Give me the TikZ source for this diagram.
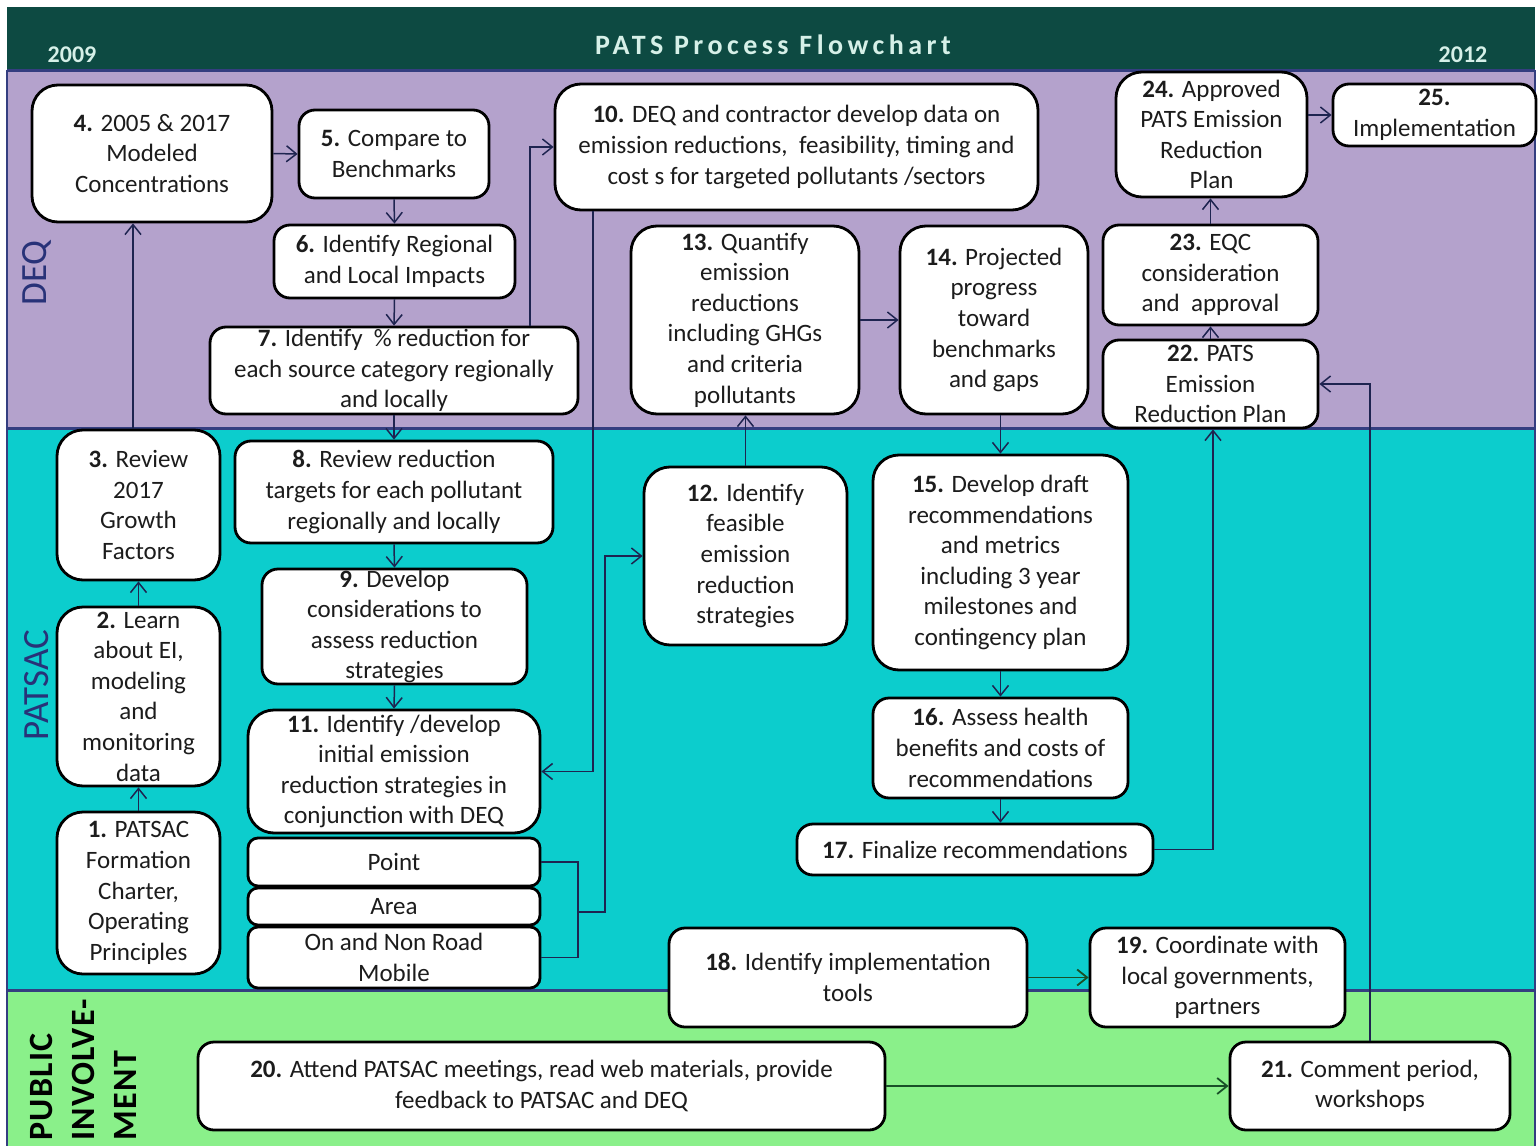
\documentclass[tikz,border=0pt]{standalone}
\usepackage{fontspec}
\setmainfont{Carlito}
\usetikzlibrary{arrows.meta}
\definecolor{hdr}{RGB}{13,74,66}
\definecolor{hdrtxt}{RGB}{214,240,232}
\definecolor{deqc}{RGB}{180,162,204}
\definecolor{patc}{RGB}{12,205,205}
\definecolor{pubc}{RGB}{138,240,138}
\definecolor{sepc}{RGB}{52,62,128}
\definecolor{lanetxt}{RGB}{40,50,120}
\definecolor{navy}{RGB}{30,36,80}
\definecolor{dgreen}{RGB}{25,80,40}
\definecolor{txtc}{RGB}{28,28,28}
\newcommand{\bxfont}{\fontsize{12.5pt}{15.3pt}\selectfont}
\tikzset{
  box/.style={draw=black, line width=1.4pt, fill=white, rounded corners=8pt,
    inner sep=0pt, align=center, font=\bxfont, text=txtc},
  bigbox/.style={box, rounded corners=13pt},
  flatbox/.style={box, rounded corners=5pt},
  conn/.style={draw=navy, line width=0.75pt, -{Straight Barb[length=5pt,width=8pt]}},
  plain/.style={draw=navy, line width=0.75pt},
  gconn/.style={draw=dgreen, line width=0.9pt, -{Straight Barb[length=5pt,width=8pt]}},
  lanelbl/.style={rotate=90, font=\fontsize{18.5pt}{20pt}\selectfont, text=lanetxt, inner sep=0pt},
}
\begin{document}
\begin{tikzpicture}[x=0.5pt,y=-0.5pt]
\useasboundingbox (0,0) rectangle (1539,1146);
\fill[white] (0,0) rectangle (1539,1146);
% header and lanes
\fill[hdr] (7,7) rectangle (1535,70);
\fill[deqc] (7,70) rectangle (1535,428);
\fill[patc] (7,428) rectangle (1535,990);
\fill[pubc] (7,990) rectangle (1535,1146);
\draw[sepc, line width=1.5pt] (7,70) -- (1535,70);
\draw[sepc, line width=1.5pt] (7,428) -- (1535,428);
\draw[sepc, line width=1.5pt] (7,990) -- (1535,990);
\draw[sepc, line width=0.8pt] (7,70) -- (7,1146);
\draw[sepc, line width=0.8pt] (1535,70) -- (1535,1146);
% header texts
\node[text=hdrtxt, font=\fontsize{14pt}{16pt}\selectfont\bfseries\addfontfeature{LetterSpace=16}, inner sep=0pt] (title) at (773,45) {PATS Process Flowchart};
\node[text=hdrtxt, font=\fontsize{12pt}{14pt}\selectfont\bfseries, inner sep=0pt] (y2009) at (72,55) {2009};
\node[text=hdrtxt, font=\fontsize{12pt}{14pt}\selectfont\bfseries, inner sep=0pt] (y2012) at (1463,55) {2012};
% lane labels
\node[lanelbl] (ldeq) at (37,273) {DEQ};
\node[lanelbl] (lpat) at (37,685) {PATSAC};
\node[rotate=90, anchor=north west, align=left, inner sep=0pt, text=black,
  font=\fontsize{17pt}{21pt}\selectfont\bfseries\addfontfeature{LetterSpace=4}] (lpub) at (30,1141) {PUBLIC\\INVOLVE-\\MENT};
% DEQ boxes
\node[bigbox, minimum width=120pt, minimum height=68.5pt] (n4) at (152,153.5) {\textbf{4.} 2005 \& 2017\\Modeled\\Concentrations};
\node[box, minimum width=95pt, minimum height=44pt] (n5) at (394,154) {\textbf{5.} Compare to\\Benchmarks};
\node[box, minimum width=120.5pt, minimum height=36.5pt] (n6) at (394.5,261.5) {\textbf{6.} Identify Regional\\and Local Impacts};
\node[box, minimum width=184pt, minimum height=43.5pt] (n7) at (394,370.5) {\textbf{7.} Identify \ \% reduction for\\each source category regionally\\and locally};
\node[bigbox, minimum width=241.5pt, minimum height=63pt] (n10) at (796.5,147) {\textbf{10.} DEQ and contractor develop data on\\emission reductions, \ feasibility, timing and\\cost s for targeted pollutants /sectors};
\node[bigbox, minimum width=114pt, minimum height=94pt] (n13) at (745,320) {\textbf{13.} Quantify\\emission\\reductions\\including GHGs\\and criteria\\pollutants};
\node[bigbox, minimum width=94pt, minimum height=94pt] (n14) at (994,320) {\textbf{14.} Projected\\progress\\toward\\benchmarks\\and gaps};
\node[bigbox, minimum width=95.5pt, minimum height=62.5pt] (n24) at (1211.5,134.5) {\textbf{24.} Approved\\PATS Emission\\Reduction\\Plan};
\node[box, minimum width=101.5pt, minimum height=31pt] (n25) at (1434.5,115) {\textbf{25.}\\Implementation};
\node[box, minimum width=107.5pt, minimum height=50pt] (n23) at (1210.5,275) {\textbf{23.} EQC\\consideration\\and \ approval};
\node[box, minimum width=107.5pt, minimum height=44pt] (n22) at (1210.5,384) {\textbf{22.} PATS\\Emission\\Reduction Plan};
% PATSAC boxes
\node[bigbox, minimum width=81.5pt, minimum height=75pt] (n3) at (138.5,505) {\textbf{3.} Review\\2017\\Growth\\Factors};
\node[bigbox, minimum width=81.5pt, minimum height=89.5pt] (n2) at (138.5,696.5) {\textbf{2.} Learn\\about EI,\\modeling\\and\\monitoring\\data};
\node[bigbox, minimum width=81.5pt, minimum height=81pt] (n1) at (138.5,893) {\textbf{1.} PATSAC\\Formation\\Charter,\\Operating\\Principles};
\node[box, minimum width=159pt, minimum height=51pt] (n8) at (394,492) {\textbf{8.} Review reduction\\targets for each pollutant\\regionally and locally};
\node[box, minimum width=132.5pt, minimum height=57.5pt] (n9) at (394.5,626.5) {\textbf{9.} Develop\\considerations to\\assess reduction\\strategies};
\node[bigbox, minimum width=146pt, minimum height=61.5pt] (n11) at (394,771.5) {\textbf{11.} Identify /develop\\initial emission\\reduction strategies in\\conjunction with DEQ};
\node[flatbox, minimum width=146pt, minimum height=24pt] (npoint) at (394,862) {Point};
\node[flatbox, minimum width=146pt, minimum height=18.5pt] (narea) at (394,906.5) {Area};
\node[flatbox, minimum width=146pt, minimum height=30.5pt] (nmob) at (394,957.5) {On and Non Road\\Mobile};
\node[bigbox, minimum width=101.5pt, minimum height=89pt] (n12) at (745.5,556) {\textbf{12.} Identify\\feasible\\emission\\reduction\\strategies};
\node[bigbox, minimum width=127.5pt, minimum height=107.5pt] (n15) at (1000.5,562.5) {\textbf{15.} Develop draft\\recommendations\\and metrics\\including 3 year\\milestones and\\contingency plan};
\node[box, minimum width=127.5pt, minimum height=50pt] (n16) at (1000.5,748) {\textbf{16.} Assess health\\benefits and costs of\\recommendations};
\node[box, minimum width=178pt, minimum height=25.5pt] (n17) at (975,849.5) {\textbf{17.} Finalize recommendations};
\node[box, minimum width=179pt, minimum height=49.5pt] (n18) at (848,977.5) {\textbf{18.} Identify implementation\\tools};
\node[box, minimum width=127.5pt, minimum height=49.5pt] (n19) at (1217.5,977.5) {\textbf{19.} Coordinate with\\local governments,\\partners};
% public boxes
\node[box, minimum width=343.5pt, minimum height=44pt] (n20) at (541.5,1086) {\textbf{20.} Attend PATSAC meetings, read web materials, provide\\feedback to PATSAC and DEQ};
\node[box, minimum width=140pt, minimum height=44pt] (n21) at (1370,1086) {\textbf{21.} Comment period,\\workshops};
% helper coordinates
\coordinate (brk) at (578,912);
\coordinate (brk2) at (605,912);
% connectors
\draw[conn] (n4.east) -- (n5.west);
\draw[conn] (n5.south) -- (n6.north);
\draw[conn] (n6.south) -- (n7.north);
\draw[conn] (n7.south) -- (n8.north);
\draw[conn] (n8.south) -- (n9.north);
\draw[conn] (n9.south) -- (n11.north);
\draw[conn] ([xshift=68pt]n7.north) |- (n10.west);
\draw[conn] ([xshift=-101.75pt]n10.south) |- (n11.east);
\draw[plain] (npoint.east) -| (brk);
\draw[plain] (nmob.east) -| (brk);
\draw[conn] (brk) -- (brk2) |- (n12.west);
\draw[conn] (n12.north) -- (n12.north |- n13.south);
\draw[conn] (n13.east) -- (n14.west);
\draw[conn] (n15.north |- n14.south) -- (n15.north);
\draw[conn] (n15.south) -- (n16.north);
\draw[conn] (n16.south) -- (n16.south |- n17.north);
\draw[conn] (n17.east) -| ([xshift=1.25pt]n22.south);
\draw[conn] (n22.north) -- (n23.south);
\draw[conn] (n23.north) -- (n23.north |- n24.south);
\draw[conn] (n24.east |- n25.west) -- (n25.west);
\draw[conn] ([xshift=-2.75pt]n3.north) -- ([xshift=-2.75pt]n3.north |- n4.south);
\draw[conn] (n2.north) -- (n3.south);
\draw[conn] (n1.north) -- (n2.south);
\draw[gconn] (n18.east) -- (n19.west);
\draw[gconn] (n20.east) -- (n21.west);
\draw[conn] (n21.north) |- (n22.east);
\end{tikzpicture}
\end{document}
